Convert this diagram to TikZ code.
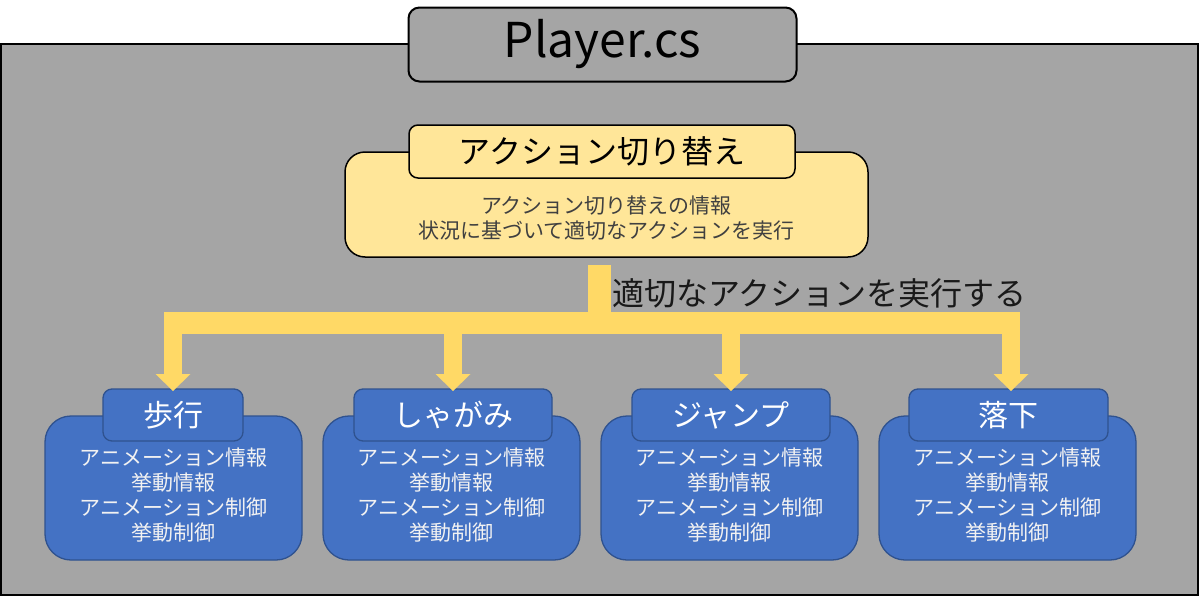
\documentclass[tikz,border=0pt]{standalone}
\usepackage{fontspec}
\setmainfont{Noto Sans CJK JP}
\definecolor{bggray}{HTML}{A5A5A5}
\definecolor{ybody}{HTML}{FFE699}
\definecolor{yarrow}{HTML}{FFD966}
\definecolor{bfill}{HTML}{4472C4}
\definecolor{bline}{HTML}{2F528F}
\definecolor{ytext}{HTML}{404040}
\tikzset{
  ybox/.style={draw=black, line width=1.5pt, fill=ybody, rounded corners=20pt, inner sep=0pt},
  ytitlebox/.style={draw=black, line width=1.5pt, fill=ybody, rounded corners=9pt, inner sep=0pt,
    font=\fontsize{32}{38}\selectfont, text=black},
  bbody/.style={draw=bline, line width=1.3pt, fill=bfill, rounded corners=26pt, inner sep=0pt,
    minimum width=257pt, minimum height=144pt},
  btitle/.style={draw=bline, line width=1.3pt, fill=bfill, rounded corners=9pt, inner sep=0pt,
    minimum height=52pt, font=\fontsize{30}{36}\selectfont, text=white},
  btext/.style={text=white!95!black, align=center, font=\fontsize{21}{25}\selectfont, inner sep=0pt},
  yarrowfill/.style={fill=yarrow, draw=none}
}
\begin{document}
\begin{tikzpicture}[x=1pt,y=-1pt]
\useasboundingbox (0,0) rectangle (1200,597);
% background
\node[draw=black, line width=1.5pt, fill=bggray, inner sep=0pt, minimum width=1197pt, minimum height=551pt] (bg) at (599.5,319.5) {};
% Player.cs
\node[draw=black, line width=2pt, fill=bggray, rounded corners=11pt, inner sep=0pt,
  minimum width=388pt, minimum height=74pt, font=\fontsize{48}{56}\selectfont] (player) at (602.5,44.5) {Player.cs};
% yellow switch box
\node[ybox, minimum width=523pt, minimum height=105pt] (ybody) at (606.5,204.5) {};
\node[ytitlebox, minimum width=386pt, minimum height=53pt] (ytitle) at (602,151.5) {アクション切り替え};
\node[text=ytext, align=center, font=\fontsize{21}{25}\selectfont, inner sep=0pt] (ytxt) at (606.5,218.5)
  {アクション切り替えの情報\\状況に基づいて適切なアクションを実行};
% blue boxes
\node[bbody] (b1) at (173.5,488) {};
\node[bbody] (b2) at (451.5,488) {};
\node[bbody] (b3) at (729.5,488) {};
\node[bbody] (b4) at (1007.5,488) {};
\node[btitle, minimum width=140pt] (t1) at (173,415) {歩行};
\node[btitle, minimum width=198pt] (t2) at (453,415) {しゃがみ};
\node[btitle, minimum width=198pt] (t3) at (731,415) {ジャンプ};
\node[btitle, minimum width=199pt] (t4) at (1008.5,415) {落下};
\foreach \i in {1,2,3,4}{
  \node[btext] (x\i) at ([yshift=-7.5pt]b\i.center) {アニメーション情報\\挙動情報\\アニメーション制御\\挙動制御};
}
% yellow branching arrow
\coordinate (stem) at (599.5,265);
\coordinate (hl) at (164,312);
\coordinate (hr) at (1020,334);
\fill[yarrowfill] (stem) ++(-11.5,0) rectangle (611,334);
\fill[yarrowfill] (hl) rectangle (hr);
\foreach \i/\xx in {1/173,2/453,3/731,4/1011}{
  \coordinate (d\i) at (\xx,374);
  \fill[yarrowfill] (\xx-9,320) rectangle ([xshift=9pt,yshift=0.5pt]d\i);
  \fill[yarrowfill] ([xshift=-17.5pt]d\i) -- ([xshift=17.5pt]d\i) -- (\xx,391) -- cycle;
}
\node[anchor=west, inner sep=0pt, font=\fontsize{32}{38}\selectfont, text=black!90] (lbl) at (612,293) {適切なアクションを実行する};
\end{tikzpicture}
\end{document}
